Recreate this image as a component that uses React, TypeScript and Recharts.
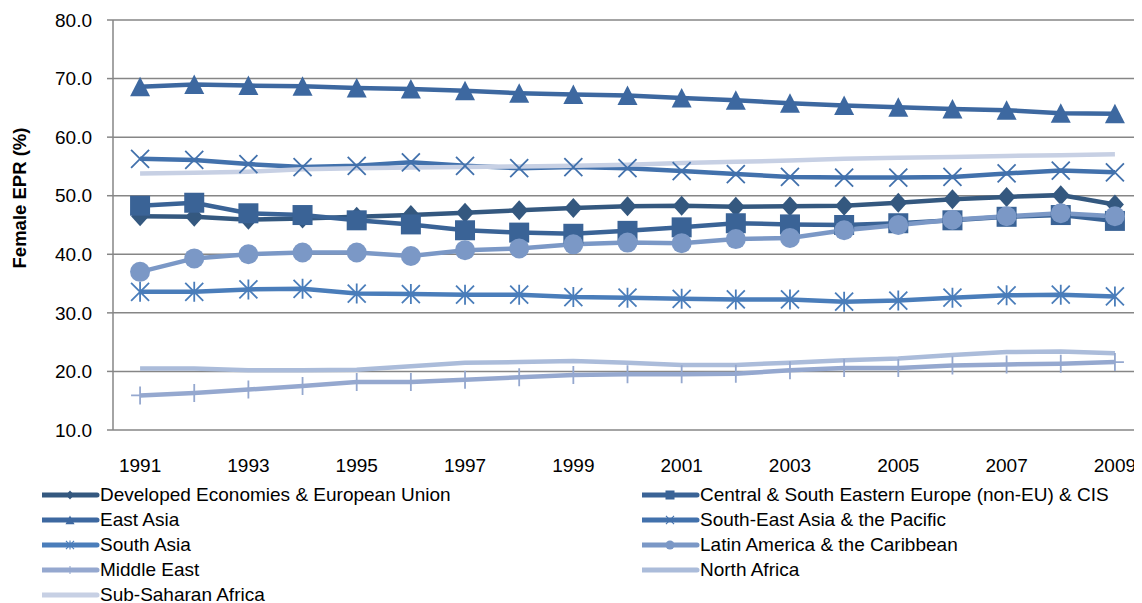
import React from "react"
import { LineChart, Line, XAxis, YAxis, CartesianGrid } from "recharts"

const years = [
  "1991", "1992", "1993", "1994", "1995", "1996", "1997", "1998", "1999", "2000",
  "2001", "2002", "2003", "2004", "2005", "2006", "2007", "2008", "2009",
]

const developed = [46.5, 46.4, 45.9, 46.1, 46.4, 46.7, 47.1, 47.5, 47.9, 48.2, 48.3, 48.1, 48.2, 48.3, 48.8, 49.4, 49.8, 50.1, 48.5]
const centralEurope = [48.3, 48.8, 47.0, 46.7, 45.8, 45.1, 44.1, 43.7, 43.5, 44.0, 44.6, 45.3, 45.1, 45.0, 45.3, 45.8, 46.4, 46.7, 45.7]
const eastAsia = [68.6, 69.0, 68.8, 68.7, 68.4, 68.2, 67.9, 67.5, 67.3, 67.1, 66.7, 66.3, 65.8, 65.4, 65.1, 64.8, 64.6, 64.1, 64.0]
const southEastAsia = [56.3, 56.1, 55.4, 54.9, 55.1, 55.7, 55.1, 54.7, 54.9, 54.7, 54.2, 53.7, 53.2, 53.1, 53.1, 53.2, 53.8, 54.3, 54.0]
const southAsia = [33.6, 33.6, 34.0, 34.1, 33.3, 33.2, 33.1, 33.1, 32.7, 32.6, 32.4, 32.3, 32.3, 31.9, 32.1, 32.6, 33.0, 33.1, 32.8]
const latinAmerica = [37.0, 39.3, 40.0, 40.3, 40.3, 39.7, 40.7, 41.0, 41.7, 42.0, 41.9, 42.6, 42.8, 44.1, 45.0, 45.9, 46.5, 47.0, 46.5]
const middleEast = [15.9, 16.3, 16.9, 17.5, 18.2, 18.2, 18.6, 19.0, 19.4, 19.5, 19.5, 19.6, 20.2, 20.6, 20.6, 21.0, 21.2, 21.3, 21.6]
const northAfrica = [20.5, 20.5, 20.2, 20.2, 20.3, 20.9, 21.5, 21.6, 21.8, 21.5, 21.1, 21.1, 21.5, 21.9, 22.2, 22.8, 23.3, 23.4, 23.1]
const subSaharan = [53.8, 53.9, 54.1, 54.5, 54.7, 54.8, 54.9, 55.0, 55.1, 55.3, 55.6, 55.8, 56.0, 56.3, 56.5, 56.6, 56.8, 56.9, 57.1]

const yTicks = [10, 20, 30, 40, 50, 60, 70, 80]
const bandTicks = [0, 1, 2, 3, 4, 5, 6, 7, 8, 9, 10, 11, 12, 13, 14, 15, 16, 17, 18, 19]

type Shape = "diamond" | "square" | "triangle" | "x" | "asterisk" | "circle" | "plus" | "none"

const series: { key: string; name: string; color: string; shape: Shape; values: number[] }[] = [
  { key: "developed", name: "Developed Economies & European Union", color: "#34587f", shape: "diamond", values: developed },
  { key: "central", name: "Central & South Eastern Europe (non-EU) & CIS", color: "#3a6396", shape: "square", values: centralEurope },
  { key: "eastAsia", name: "East Asia", color: "#3d68a0", shape: "triangle", values: eastAsia },
  { key: "seAsia", name: "South-East Asia & the Pacific", color: "#4271ac", shape: "x", values: southEastAsia },
  { key: "southAsia", name: "South Asia", color: "#4a7dba", shape: "asterisk", values: southAsia },
  { key: "latin", name: "Latin America & the Caribbean", color: "#7b98c6", shape: "circle", values: latinAmerica },
  { key: "middleEast", name: "Middle East", color: "#95a8cf", shape: "plus", values: middleEast },
  { key: "northAfrica", name: "North Africa", color: "#abbcda", shape: "none", values: northAfrica },
  { key: "subSaharan", name: "Sub-Saharan Africa", color: "#c7d0e4", shape: "none", values: subSaharan },
]

const rows = years.map((year, i) => {
  const row: Record<string, string | number> = { year }
  series.forEach((s) => (row[s.key] = s.values[i]))
  return row
})

const FONT = "'Liberation Sans', Arial, sans-serif"
const GRID = "#868686"

function marker(shape: Shape, color: string, cx: number, cy: number, k: number, s = 1) {
  const r = 10 * s
  const sw = 1.8 * Math.max(s, 0.6)
  switch (shape) {
    case "diamond":
      return <path key={k} d={`M${cx},${cy - r} L${cx + r * 0.9},${cy} L${cx},${cy + r} L${cx - r * 0.9},${cy} Z`} fill={color} />
    case "square":
      return <rect key={k} x={cx - r} y={cy - r} width={2 * r} height={2 * r} fill={color} />
    case "triangle":
      return <path key={k} d={`M${cx},${cy - r} L${cx + r},${cy + r * 0.95} L${cx - r},${cy + r * 0.95} Z`} fill={color} />
    case "x":
      return (
        <path key={k} d={`M${cx - r * 0.9},${cy - r * 0.9} L${cx + r * 0.9},${cy + r * 0.9} M${cx - r * 0.9},${cy + r * 0.9} L${cx + r * 0.9},${cy - r * 0.9}`}
          stroke={color} strokeWidth={sw} fill="none" />
      )
    case "asterisk":
      return (
        <path key={k} d={`M${cx - r * 0.9},${cy - r * 0.9} L${cx + r * 0.9},${cy + r * 0.9} M${cx - r * 0.9},${cy + r * 0.9} L${cx + r * 0.9},${cy - r * 0.9} M${cx},${cy - r} L${cx},${cy + r}`}
          stroke={color} strokeWidth={sw} fill="none" />
      )
    case "circle":
      return <circle key={k} cx={cx} cy={cy} r={r} fill={color} />
    case "plus":
      return (
        <path key={k} d={`M${cx},${cy - r * 0.9} L${cx},${cy + r * 0.9} M${cx - r * 0.9},${cy} L${cx + r * 0.9},${cy}`}
          stroke={color} strokeWidth={sw} fill="none" />
      )
    default:
      return null
  }
}

function Legend() {
  return (
    <div style={{ position: "absolute", left: 42, top: 482, width: 1100, display: "grid", gridTemplateColumns: "600px 500px" }}>
      {series.map((s) => (
        <div key={s.key} style={{ display: "flex", alignItems: "center", height: 25, fontSize: 19, color: "#000" }}>
          <svg width={58} height={14} style={{ flex: "none" }}>
            <line x1={0} y1={7} x2={55} y2={7} stroke={s.color} strokeWidth={5} strokeLinecap="round" />
            {marker(s.shape, s.color, 28, 7, 0, 0.45)}
          </svg>
          <span style={{ whiteSpace: "nowrap" }}>{s.name}</span>
        </div>
      ))}
    </div>
  )
}

export default function App() {
  return (
    <div style={{ position: "relative", width: 1142, height: 603, margin: "-8px -8px 0 -8px", fontFamily: FONT, background: "#fff" }}>
      <div
        style={{
          position: "absolute", left: 20, top: 198, transform: "translate(-50%, -50%) rotate(-90deg)",
          fontWeight: "bold", fontSize: 18.5, whiteSpace: "nowrap", color: "#000",
        }}
      >
        Female EPR (%)
      </div>
      <LineChart width={1142} height={480} data={rows} margin={{ top: 20, right: 0, left: 0, bottom: 0 }}>
        <XAxis
          xAxisId="band"
          type="number"
          domain={[0, 19]}
          ticks={bandTicks}
          allowDataOverflow
          height={0}
          tickSize={5}
          tickFormatter={() => ""}
          stroke={GRID}
          tickLine={{ stroke: GRID, strokeWidth: 1.5 }}
          axisLine={{ stroke: GRID, strokeWidth: 1.5 }}
        />
        <XAxis
          xAxisId="cat"
          dataKey="year"
          scale="band"
          interval={1}
          height={50}
          tickSize={0}
          tickMargin={29}
          tickLine={false}
          axisLine={false}
          tick={{ fill: "#000", fontSize: 19, fontFamily: FONT }}
        />
        <YAxis
          domain={[10, 80]}
          ticks={yTicks}
          width={113}
          tickSize={6}
          tickMargin={15}
          tickFormatter={(v: number) => v.toFixed(1)}
          tick={{ fill: "#000", fontSize: 19, fontFamily: FONT }}
          tickLine={{ stroke: GRID, strokeWidth: 1.5 }}
          axisLine={{ stroke: GRID, strokeWidth: 1.5 }}
        />
        <CartesianGrid xAxisId="cat" vertical={false} stroke={GRID} strokeWidth={1.5} />
        {series.map((s) => (
          <Line
            key={s.key}
            xAxisId="cat"
            dataKey={s.key}
            name={s.name}
            type="linear"
            stroke={s.color}
            strokeWidth={4.5}
            isAnimationActive={false}
            dot={
              s.shape === "none"
                ? false
                : (p: any) => (p.cx == null ? <g key={p.index} /> : marker(s.shape, s.color, p.cx, p.cy, p.index))
            }
            activeDot={false}
          />
        ))}
      </LineChart>
      <Legend />
    </div>
  )
}
